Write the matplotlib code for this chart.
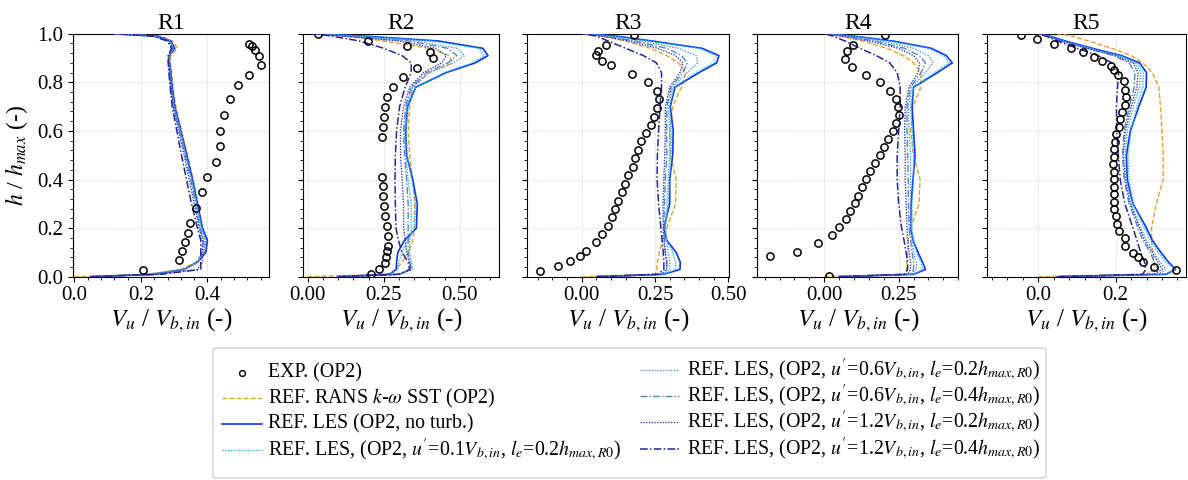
import matplotlib
matplotlib.use("Agg")
import matplotlib.pyplot as plt
from matplotlib.ticker import AutoMinorLocator, MultipleLocator, FormatStrFormatter
from matplotlib.lines import Line2D
from matplotlib.patches import FancyBboxPatch

plt.rcParams['font.family'] = ['Liberation Serif', 'DejaVu Serif']
plt.rcParams['mathtext.fontset'] = 'stix'

# ---------------- data ----------------
PANELS = ["R1", "R2", "R3", "R4", "R5"]

# common height levels for the simulation profiles (h/hmax)
H = [0.0, 0.01, 0.03, 0.06, 0.1, 0.15, 0.2, 0.3, 0.4, 0.5, 0.6, 0.7, 0.78,
     0.84, 0.88, 0.91, 0.94, 0.97, 0.99, 1.0]

# experimental points (Vu/Vb,in , h/hmax)
R1_EXP_V = [0.205, 0.316, 0.323, 0.332, 0.343, 0.348, 0.365, 0.384, 0.398, 0.425, 0.439,
            0.437, 0.451, 0.468, 0.491, 0.524, 0.561, 0.555, 0.544, 0.535, 0.524]
R1_EXP_H = [0.029, 0.069, 0.106, 0.144, 0.181, 0.221, 0.284, 0.347, 0.412, 0.473, 0.538,
            0.601, 0.665, 0.730, 0.790, 0.831, 0.870, 0.907, 0.934, 0.948, 0.959]
R2_EXP_V = [0.035, 0.199, 0.325, 0.401, 0.412, 0.358, 0.314, 0.281, 0.261, 0.254, 0.252,
            0.246, 0.244, 0.244, 0.246, 0.248, 0.252, 0.255, 0.259, 0.264, 0.264, 0.261,
            0.257, 0.254, 0.235, 0.207]
R2_EXP_H = [0.999, 0.969, 0.951, 0.925, 0.900, 0.859, 0.820, 0.779, 0.738, 0.697, 0.657,
            0.616, 0.576, 0.412, 0.374, 0.333, 0.292, 0.251, 0.210, 0.169, 0.128, 0.104,
            0.080, 0.055, 0.032, 0.010]
R3_EXP_V = [0.178, 0.083, 0.057, 0.049, 0.068, 0.100, 0.173, 0.227, 0.258, 0.264, 0.257,
            0.247, 0.236, 0.219, 0.202, 0.191, 0.182, 0.174, 0.159, 0.149, 0.138, 0.125,
            0.114, 0.103, 0.089, 0.070, 0.049, 0.015, -0.007, -0.040, -0.082, -0.142]
R3_EXP_H = [0.993, 0.952, 0.930, 0.911, 0.889, 0.870, 0.834, 0.800, 0.763, 0.731, 0.694,
            0.658, 0.626, 0.590, 0.557, 0.521, 0.488, 0.453, 0.417, 0.383, 0.348, 0.313,
            0.280, 0.244, 0.210, 0.174, 0.141, 0.107, 0.085, 0.066, 0.044, 0.025]
R4_EXP_V = [0.203, 0.097, 0.075, 0.069, 0.095, 0.139, 0.189, 0.220, 0.242, 0.248, 0.250,
            0.242, 0.231, 0.214, 0.201, 0.186, 0.172, 0.155, 0.142, 0.128, 0.115, 0.102,
            0.088, 0.073, 0.050, 0.025, -0.022, -0.090, -0.182, 0.015]
R4_EXP_H = [0.993, 0.952, 0.930, 0.897, 0.864, 0.831, 0.800, 0.766, 0.731, 0.700, 0.667,
            0.634, 0.600, 0.567, 0.532, 0.501, 0.466, 0.435, 0.401, 0.368, 0.333, 0.302,
            0.270, 0.237, 0.203, 0.170, 0.137, 0.103, 0.084, 0.005]
R5_EXP_V = [-0.045, -0.004, 0.041, 0.084, 0.116, 0.145, 0.164, 0.187, 0.196, 0.205, 0.221,
            0.224, 0.227, 0.224, 0.216, 0.211, 0.208, 0.200, 0.199, 0.196, 0.196, 0.194,
            0.195, 0.196, 0.196, 0.196, 0.196, 0.197, 0.200, 0.203, 0.208, 0.224, 0.224,
            0.245, 0.258, 0.271, 0.300, 0.356]
R5_EXP_H = [0.996, 0.977, 0.959, 0.941, 0.923, 0.904, 0.886, 0.868, 0.849, 0.831, 0.804,
            0.770, 0.740, 0.708, 0.678, 0.649, 0.617, 0.586, 0.554, 0.525, 0.494, 0.464,
            0.432, 0.402, 0.370, 0.340, 0.309, 0.278, 0.250, 0.219, 0.188, 0.158, 0.126,
            0.096, 0.080, 0.059, 0.041, 0.027]

# RANS k-omega SST
R1_RANS = [0.0, 0.22, 0.32, 0.365, 0.39, 0.395, 0.385, 0.372, 0.357, 0.34, 0.322, 0.305, 0.296, 0.292, 0.288, 0.29, 0.31, 0.295, 0.26, 0.14]
R2_RANS = [0.0, 0.26, 0.29, 0.31, 0.332, 0.345, 0.35, 0.352, 0.345, 0.335, 0.33, 0.335, 0.345, 0.40, 0.475, 0.465, 0.40, 0.25, 0.12, 0.02]
R3_RANS = [0.0, 0.25, 0.256, 0.258, 0.265, 0.275, 0.29, 0.32, 0.322, 0.302, 0.30, 0.31, 0.34, 0.355, 0.33, 0.29, 0.235, 0.15, 0.07, 0.0]
R4_RANS = [0.0, 0.275, 0.277, 0.278, 0.28, 0.282, 0.29, 0.318, 0.322, 0.30, 0.29, 0.298, 0.325, 0.325, 0.30, 0.265, 0.21, 0.13, 0.05, 0.0]
R5_RANS = [0.0, 0.28, 0.30, 0.30, 0.295, 0.293, 0.293, 0.305, 0.323, 0.323, 0.32, 0.316, 0.312, 0.295, 0.27, 0.24, 0.19, 0.13, 0.09, 0.05]

# LES, no inflow turbulence
R1_LES = [0.05, 0.24, 0.33, 0.37, 0.395, 0.40, 0.385, 0.37, 0.355, 0.338, 0.32, 0.302, 0.294, 0.29, 0.286, 0.285, 0.302, 0.29, 0.25, 0.12]
R2_LES = [0.1, 0.27, 0.291, 0.292, 0.296, 0.318, 0.357, 0.36, 0.345, 0.325, 0.322, 0.328, 0.355, 0.455, 0.55, 0.592, 0.575, 0.43, 0.19, 0.02]
R3_LES = [0.05, 0.28, 0.335, 0.336, 0.322, 0.29, 0.28, 0.30, 0.30, 0.31, 0.312, 0.302, 0.318, 0.40, 0.46, 0.468, 0.41, 0.24, 0.12, 0.01]
R4_LES = [0.05, 0.30, 0.34, 0.33, 0.315, 0.298, 0.29, 0.292, 0.298, 0.305, 0.30, 0.295, 0.30, 0.38, 0.43, 0.41, 0.36, 0.23, 0.10, 0.01]
R5_LES = [0.05, 0.33, 0.355, 0.337, 0.317, 0.295, 0.28, 0.245, 0.23, 0.228, 0.238, 0.26, 0.279, 0.28, 0.262, 0.215, 0.14, 0.07, 0.03, 0.0]

# LES, u'=0.1 Vb,in, le=0.2 hmax,R0
R1_LES_01_02 = [0.05, 0.23, 0.33, 0.37, 0.39, 0.395, 0.383, 0.368, 0.353, 0.336, 0.318, 0.30, 0.292, 0.288, 0.285, 0.285, 0.30, 0.288, 0.245, 0.12]
R2_LES_01_02 = [0.1, 0.27, 0.295, 0.30, 0.31, 0.33, 0.35, 0.355, 0.342, 0.327, 0.323, 0.33, 0.355, 0.45, 0.54, 0.58, 0.56, 0.41, 0.18, 0.02]
R3_LES_01_02 = [0.05, 0.28, 0.32, 0.32, 0.31, 0.29, 0.285, 0.295, 0.30, 0.305, 0.305, 0.30, 0.315, 0.39, 0.45, 0.46, 0.40, 0.23, 0.11, 0.01]
R4_LES_01_02 = [0.05, 0.30, 0.33, 0.325, 0.31, 0.30, 0.295, 0.295, 0.30, 0.30, 0.295, 0.29, 0.30, 0.37, 0.42, 0.40, 0.35, 0.22, 0.10, 0.01]
R5_LES_01_02 = [0.05, 0.33, 0.355, 0.33, 0.31, 0.29, 0.275, 0.245, 0.235, 0.232, 0.24, 0.255, 0.27, 0.272, 0.255, 0.21, 0.135, 0.065, 0.03, 0.0]

# LES, u'=0.6 Vb,in, le=0.2 hmax,R0
R1_LES_06_02 = [0.05, 0.23, 0.33, 0.37, 0.39, 0.39, 0.38, 0.366, 0.352, 0.335, 0.318, 0.30, 0.292, 0.288, 0.285, 0.286, 0.298, 0.285, 0.24, 0.12]
R2_LES_06_02 = [0.1, 0.3, 0.345, 0.34, 0.335, 0.335, 0.34, 0.34, 0.33, 0.322, 0.318, 0.325, 0.345, 0.40, 0.48, 0.515, 0.49, 0.36, 0.14, 0.02]
R3_LES_06_02 = [0.05, 0.28, 0.30, 0.30, 0.295, 0.29, 0.285, 0.29, 0.295, 0.30, 0.30, 0.295, 0.31, 0.36, 0.395, 0.39, 0.33, 0.2, 0.09, 0.01]
R4_LES_06_02 = [0.05, 0.29, 0.31, 0.31, 0.30, 0.295, 0.29, 0.29, 0.29, 0.29, 0.285, 0.282, 0.295, 0.34, 0.365, 0.35, 0.30, 0.19, 0.08, 0.01]
R5_LES_06_02 = [0.05, 0.31, 0.33, 0.315, 0.30, 0.28, 0.265, 0.24, 0.228, 0.225, 0.23, 0.245, 0.262, 0.265, 0.25, 0.205, 0.13, 0.06, 0.025, 0.0]

# LES, u'=0.6 Vb,in, le=0.4 hmax,R0
R1_LES_06_04 = [0.05, 0.23, 0.33, 0.368, 0.385, 0.388, 0.378, 0.364, 0.35, 0.333, 0.316, 0.299, 0.291, 0.287, 0.284, 0.285, 0.297, 0.285, 0.24, 0.12]
R2_LES_06_04 = [0.1, 0.3, 0.34, 0.335, 0.33, 0.33, 0.33, 0.33, 0.325, 0.318, 0.315, 0.322, 0.34, 0.39, 0.46, 0.49, 0.46, 0.33, 0.13, 0.02]
R3_LES_06_04 = [0.05, 0.28, 0.29, 0.29, 0.285, 0.283, 0.28, 0.282, 0.285, 0.29, 0.29, 0.29, 0.305, 0.345, 0.36, 0.34, 0.29, 0.18, 0.08, 0.01]
R4_LES_06_04 = [0.05, 0.29, 0.30, 0.30, 0.295, 0.29, 0.285, 0.283, 0.282, 0.28, 0.278, 0.278, 0.29, 0.325, 0.34, 0.32, 0.27, 0.17, 0.07, 0.01]
R5_LES_06_04 = [0.05, 0.30, 0.31, 0.30, 0.29, 0.27, 0.258, 0.235, 0.222, 0.218, 0.222, 0.235, 0.248, 0.25, 0.235, 0.195, 0.125, 0.06, 0.025, 0.0]

# LES, u'=1.2 Vb,in, le=0.2 hmax,R0
R1_LES_12_02 = [0.05, 0.25, 0.37, 0.385, 0.385, 0.385, 0.375, 0.36, 0.345, 0.33, 0.313, 0.297, 0.29, 0.286, 0.283, 0.283, 0.295, 0.283, 0.24, 0.12]
R2_LES_12_02 = [0.1, 0.3, 0.34, 0.335, 0.325, 0.32, 0.315, 0.315, 0.31, 0.305, 0.305, 0.315, 0.335, 0.38, 0.44, 0.455, 0.42, 0.30, 0.12, 0.02]
R3_LES_12_02 = [0.05, 0.27, 0.29, 0.29, 0.285, 0.28, 0.278, 0.277, 0.28, 0.283, 0.285, 0.285, 0.30, 0.335, 0.345, 0.32, 0.26, 0.16, 0.07, 0.01]
R4_LES_12_02 = [0.05, 0.28, 0.29, 0.29, 0.285, 0.28, 0.278, 0.275, 0.272, 0.272, 0.27, 0.272, 0.285, 0.315, 0.32, 0.30, 0.25, 0.15, 0.06, 0.01]
R5_LES_12_02 = [0.05, 0.30, 0.32, 0.31, 0.295, 0.275, 0.262, 0.238, 0.225, 0.22, 0.225, 0.24, 0.255, 0.258, 0.245, 0.20, 0.125, 0.06, 0.025, 0.0]

# LES, u'=1.2 Vb,in, le=0.4 hmax,R0
R1_LES_12_04 = [0.05, 0.26, 0.38, 0.38, 0.38, 0.38, 0.37, 0.352, 0.337, 0.322, 0.308, 0.294, 0.288, 0.284, 0.282, 0.282, 0.292, 0.28, 0.235, 0.12]
R2_LES_12_04 = [0.1, 0.3, 0.335, 0.33, 0.31, 0.298, 0.29, 0.288, 0.287, 0.288, 0.292, 0.302, 0.32, 0.34, 0.34, 0.31, 0.25, 0.17, 0.08, 0.02]
R3_LES_12_04 = [0.05, 0.26, 0.28, 0.28, 0.278, 0.274, 0.27, 0.262, 0.257, 0.258, 0.262, 0.267, 0.272, 0.272, 0.255, 0.21, 0.15, 0.09, 0.05, 0.0]
R4_LES_12_04 = [0.05, 0.27, 0.28, 0.28, 0.275, 0.268, 0.26, 0.25, 0.245, 0.245, 0.25, 0.255, 0.255, 0.245, 0.22, 0.175, 0.12, 0.07, 0.03, 0.0]
R5_LES_12_04 = [0.05, 0.27, 0.278, 0.275, 0.265, 0.255, 0.245, 0.224, 0.212, 0.207, 0.203, 0.202, 0.205, 0.208, 0.19, 0.155, 0.10, 0.05, 0.02, 0.0]

EXP_V = [R1_EXP_V, R2_EXP_V, R3_EXP_V, R4_EXP_V, R5_EXP_V]
EXP_H = [R1_EXP_H, R2_EXP_H, R3_EXP_H, R4_EXP_H, R5_EXP_H]
SERIES = [
    [R1_RANS, R2_RANS, R3_RANS, R4_RANS, R5_RANS],
    [R1_LES, R2_LES, R3_LES, R4_LES, R5_LES],
    [R1_LES_01_02, R2_LES_01_02, R3_LES_01_02, R4_LES_01_02, R5_LES_01_02],
    [R1_LES_06_02, R2_LES_06_02, R3_LES_06_02, R4_LES_06_02, R5_LES_06_02],
    [R1_LES_06_04, R2_LES_06_04, R3_LES_06_04, R4_LES_06_04, R5_LES_06_04],
    [R1_LES_12_02, R2_LES_12_02, R3_LES_12_02, R4_LES_12_02, R5_LES_12_02],
    [R1_LES_12_04, R2_LES_12_04, R3_LES_12_04, R4_LES_12_04, R5_LES_12_04],
]
LABELS = [
    r"REF. RANS $k$-$\omega$ SST (OP2)",
    r"REF. LES (OP2, no turb.)",
    r"REF. LES, (OP2, $u'$=0.1$V_{b,in}$, $l_e$=0.2$h_{max,R0}$)",
    r"REF. LES, (OP2, $u'$=0.6$V_{b,in}$, $l_e$=0.2$h_{max,R0}$)",
    r"REF. LES, (OP2, $u'$=0.6$V_{b,in}$, $l_e$=0.4$h_{max,R0}$)",
    r"REF. LES, (OP2, $u'$=1.2$V_{b,in}$, $l_e$=0.2$h_{max,R0}$)",
    r"REF. LES, (OP2, $u'$=1.2$V_{b,in}$, $l_e$=0.4$h_{max,R0}$)",
]
EXP_LABEL = "EXP. (OP2)"

# ---------------- styles / layout ----------------
COLORS = ['#e5a02f', '#1033f0', '#1ec0f0', '#5b9bd5', '#4f8ac8', '#3c3cc8', '#26269a']
STYLES = [(0, (3.5, 1.6)), '-', (0, (1, 1)), (0, (1, 1)), (0, (5, 1.5, 1, 1.5)),
          (0, (1, 1)), (0, (5, 1.5, 1, 1.5))]
WIDTHS = [1.0, 1.2, 1.0, 1.0, 1.0, 1.0, 1.1]
XLIMS = [(-0.005, 0.586), (-0.016, 0.628), (-0.185, 0.502), (-0.224, 0.45), (-0.132, 0.382)]
XMAJ = [0.2, 0.25, 0.25, 0.25, 0.2]
POS = [(0.0612, 0.1655), (0.2548, 0.1652), (0.4440, 0.1696), (0.6376, 0.1690), (0.8310, 0.1673)]
BOTTOM, HEIGHT = 0.4235, 0.50625
FW, FH = 1188.0, 480.0

fig = plt.figure(figsize=(11.88, 4.8), dpi=100)

for i, name in enumerate(PANELS):
    left, width = POS[i]
    ax = fig.add_axes([left, BOTTOM, width, HEIGHT])
    ax.set_axisbelow(True)
    ax.grid(True, which='major', linestyle=':', linewidth=0.7, color='#cfcfcf')
    ax.plot(EXP_V[i], EXP_H[i], linestyle='none', marker='o', markersize=5.2,
            markerfacecolor='none', markeredgecolor='black', markeredgewidth=1.1,
            zorder=4, label=EXP_LABEL)
    for k in range(len(SERIES)):
        ax.plot(SERIES[k][i], H, color=COLORS[k], linestyle=STYLES[k],
                linewidth=WIDTHS[k], label=LABELS[k], zorder=3)
    ax.set_xlim(*XLIMS[i])
    ax.set_ylim(0, 1)
    ax.xaxis.set_major_locator(MultipleLocator(XMAJ[i]))
    ax.yaxis.set_major_locator(MultipleLocator(0.2))
    ax.xaxis.set_minor_locator(AutoMinorLocator(5))
    ax.yaxis.set_minor_locator(AutoMinorLocator(5))
    ax.tick_params(which='major', length=3.5, width=0.8, labelsize=15, direction='out')
    ax.tick_params(which='minor', length=2, width=0.6, direction='out')
    if XMAJ[i] == 0.2:
        ax.xaxis.set_major_formatter(FormatStrFormatter('%.1f'))
    else:
        ax.xaxis.set_major_formatter(FormatStrFormatter('%.2f'))
    if i == 0:
        ax.yaxis.set_major_formatter(FormatStrFormatter('%.1f'))
        ax.set_ylabel(r"$h$ / $h_{max}$ (-)", fontsize=17, labelpad=5)
    else:
        ax.tick_params(axis='y', labelleft=False)
    ax.set_xlabel(r"$V_u$ / $V_{b,in}$ (-)", fontsize=18, labelpad=1)
    ax.set_title(name, fontsize=17, pad=3)
    for sp in ax.spines.values():
        sp.set_linewidth(0.8)

# ---------------- legend (two columns, evenly spaced rows) ----------------
def fx(px):
    return px / FW

def fy(py):
    return 1.0 - py / FH

box = FancyBboxPatch((fx(213), fy(478)), fx(1046) - fx(213), fy(348) - fy(478),
                     boxstyle="round,pad=0,rounding_size=0.004", transform=fig.transFigure,
                     facecolor='white', edgecolor='#cccccc', linewidth=0.9, zorder=5)
fig.add_artist(box)

LEG_FS = 14.3
col1_rows = [373, 398, 424, 450]
col2_rows = [370, 396, 422, 449]
entries1 = [None, 0, 1, 2]   # None = experimental markers
entries2 = [3, 4, 5, 6]

for rows, entries, hx0, hx1, tx in [(col1_rows, entries1, 222, 262, 268),
                                    (col2_rows, entries2, 640, 679, 687)]:
    for y, k in zip(rows, entries):
        if k is None:
            fig.add_artist(Line2D([fx((hx0 + hx1) / 2)], [fy(y)], transform=fig.transFigure,
                                  linestyle='none', marker='o', markersize=4.2,
                                  markerfacecolor='none', markeredgecolor='black',
                                  markeredgewidth=1.0, zorder=6))
            label = EXP_LABEL
        else:
            fig.add_artist(Line2D([fx(hx0), fx(hx1)], [fy(y), fy(y)], transform=fig.transFigure,
                                  color=COLORS[k], linestyle=STYLES[k], linewidth=WIDTHS[k],
                                  zorder=6))
            label = LABELS[k]
        fig.text(fx(tx), fy(y), label, fontsize=LEG_FS, ha='left', va='center', zorder=6)

fig.savefig("out.png", dpi=100)
